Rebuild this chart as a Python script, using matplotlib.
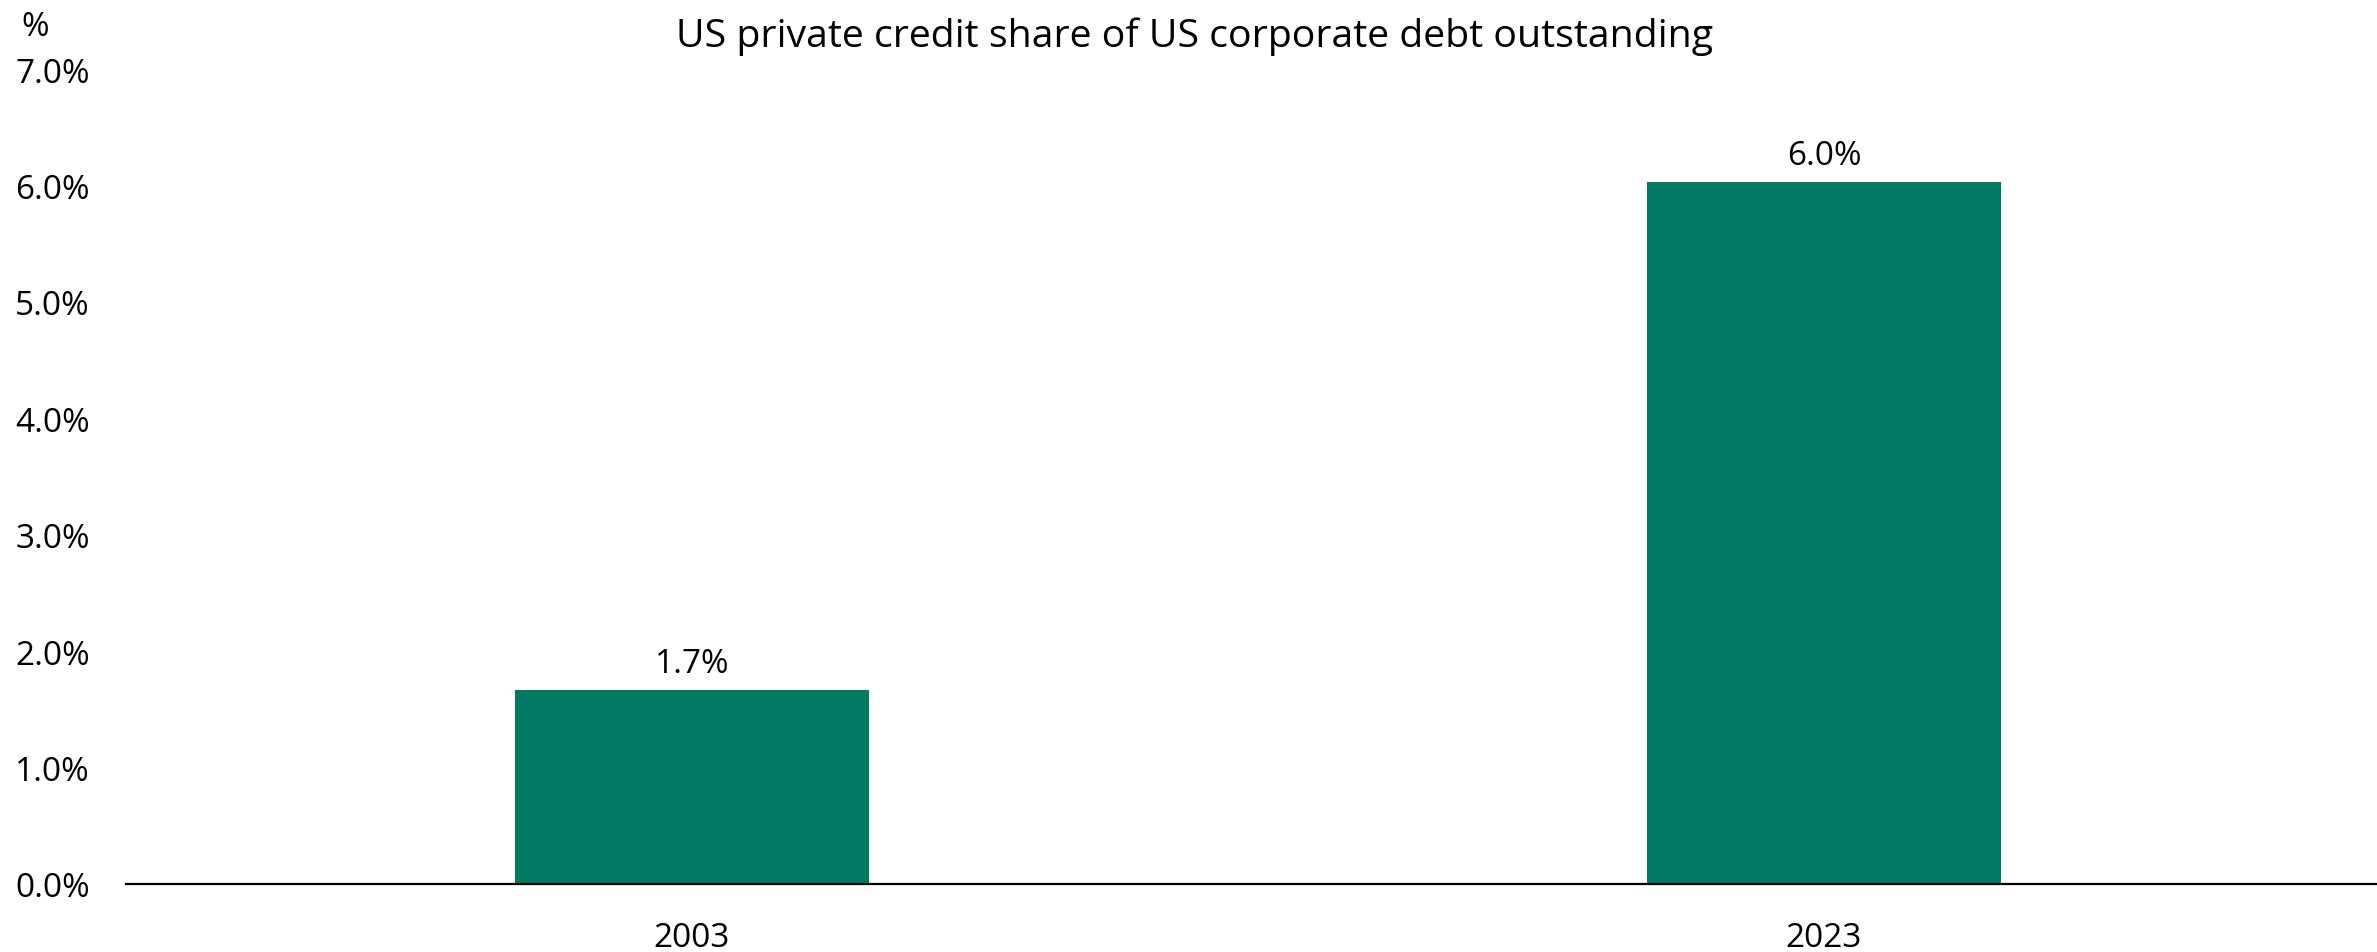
import matplotlib
matplotlib.use("Agg")
import matplotlib.pyplot as plt
from matplotlib.ticker import FuncFormatter

# data
years = ["2003", "2023"]
share = [1.67, 6.03]   # % of US corporate debt outstanding
bar_labels = ["1.7%", "6.0%"]
y_ticks = [0, 1, 2, 3, 4, 5, 6, 7]

plt.rcParams['font.family'] = ['Open Sans', 'DejaVu Sans']

fig = plt.figure(figsize=(23.77, 9.53), dpi=100)
# axes run a bit past the right edge, the category axis is cut off there
ax = fig.add_axes([0.053, 0.0714, 0.9525, 0.855])

x = range(len(years))
bars = ax.bar(x, share, width=0.3127, color="#007B63")

# value labels above the bars
for b, lab in zip(bars, bar_labels):
    ax.annotate(lab, (b.get_x() + b.get_width() / 2, b.get_height()),
                xytext=(0, 7), textcoords="offset points",
                ha="center", va="bottom", fontsize=24)

ax.set_xlim(-0.5, 1.5)
ax.set_ylim(0, 7)
ax.set_xticks(list(x))
ax.set_xticklabels(years)
ax.set_yticks(y_ticks)
ax.yaxis.set_major_formatter(FuncFormatter(lambda v, p: "%.1f%%" % v))
ax.tick_params(axis="both", length=0, labelsize=24)
ax.tick_params(axis="y", pad=26)
ax.tick_params(axis="x", pad=27)

for s in ["top", "right", "left"]:
    ax.spines[s].set_visible(False)
ax.spines["bottom"].set_linewidth(1.6)
ax.spines["bottom"].set_color("black")

fig.text(0.5025, 0.962, "US private credit share of US corporate debt outstanding",
         ha="center", va="center", fontsize=28.3)
fig.text(0.009, 0.971, "%", ha="left", va="center", fontsize=24)

fig.savefig("out.png", dpi=100)
